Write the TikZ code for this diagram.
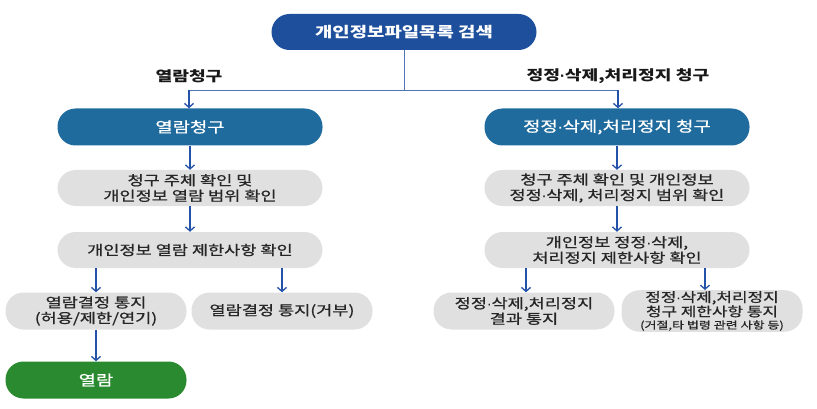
\documentclass[tikz,border=0pt]{standalone}
\usepackage{fontspec}
\setmainfont{Noto Sans CJK KR}[FakeStretch=1.3]
\newfontfamily\medfont{Noto Sans CJK KR}[FakeStretch=1.3, FakeBold=0.8]
\newfontfamily\dotfont{Liberation Sans}[FakeBold=1]
\newcommand\mdotx{{\dotfont ·}}
\usetikzlibrary{arrows.meta}
\definecolor{topblue}{HTML}{1E4F9C}
\definecolor{midblue}{HTML}{1F6B9E}
\definecolor{boxgray}{HTML}{E0E0E0}
\definecolor{okgreen}{HTML}{2A8A2F}
\definecolor{arrowblue}{HTML}{2452A8}
\tikzset{
  pill/.style={rounded corners=18pt, minimum height=37pt, align=center, inner sep=1pt},
  darkpill/.style={pill, fill=topblue, text=white, font=\bfseries\fontsize{14.5pt}{15pt}\selectfont},
  bluepill/.style={pill, fill=midblue, text=white, font=\medfont\fontsize{14.5pt}{15pt}\selectfont},
  graypill/.style={pill, fill=boxgray, text=black!85, font=\medfont\fontsize{13.5pt}{15.5pt}\selectfont},
  greenpill/.style={pill, fill=okgreen, text=white, font=\medfont\fontsize{14.5pt}{15pt}\selectfont},
  flow/.style={draw=arrowblue, line width=1.1pt, -{Straight Barb[length=4pt,width=9pt,line width=1.3pt]}},
  link/.style={draw=arrowblue!80, line width=0.8pt},
  lbl/.style={font=\bfseries\fontsize{14pt}{15pt}\selectfont, text=black!90}
}
\begin{document}
\begin{tikzpicture}[x=1pt,y=-1pt]
\useasboundingbox (0,0) rectangle (817,409);
\node[darkpill, minimum width=265pt, minimum height=36pt] (top) at (404,32) {개인정보파일목록 검색};
\coordinate (j) at (404,90);
\coordinate (jl) at (189,90);
\coordinate (jr) at (618,90);
\node[lbl] (ll) at (189,76) {열람청구};
\node[lbl] (rl) at (618,76) {정정\mdotx 삭제,처리정지 청구};

\node[bluepill, minimum width=265pt] (a1) at (190,127) {열람청구};
\node[graypill, minimum width=265pt, minimum height=36pt] (a2) at (190,188) {청구 주체 확인 및\\개인정보 열람 범위 확인};
\node[graypill, minimum width=265pt, minimum height=36pt] (a3) at (190,250) {개인정보 열람 제한사항 확인};
\node[graypill, minimum width=181pt] (a4) at (96,311) {열람결정 통지\\(허용/제한/연기)};
\node[graypill, minimum width=181pt] (a5) at (282,311) {열람결정 통지(거부)};
\node[greenpill, minimum width=181pt] (a6) at (96,380) {열람};

\node[bluepill, minimum width=265pt] (b1) at (617,127) {정정\mdotx 삭제,처리정지 청구};
\node[graypill, minimum width=265pt, minimum height=36pt] (b2) at (617,188) {청구 주체 확인 및 개인정보\\정정\mdotx 삭제, 처리정지 범위 확인};
\node[graypill, minimum width=265pt, minimum height=36pt] (b3) at (617,250) {개인정보 정정\mdotx 삭제,\\처리정지 제한사항 확인};
\node[graypill, minimum width=181pt] (b4) at (524,311) {정정\mdotx 삭제,처리정지\\결과 통지};
\node[graypill, minimum width=181pt, font=\medfont\fontsize{13pt}{12.5pt}\selectfont] (b5) at (712,311) {정정\mdotx 삭제,처리정지\\청구 제한사항 통지\\{\fontsize{10pt}{11pt}\selectfont (거절,타 법령 관련 사항 등)}};

\draw[link] (top.south) -- (j);
\draw[link] (jl) -- (jr);
\draw[flow] (jl) -- (jl |- a1.north);
\draw[flow] (jr) -- (jr |- b1.north);

\draw[flow] (a1.south) -- (a2.north);
\draw[flow] (a2.south) -- (a3.north);
\draw[flow] (a3.south -| a4) -- (a4.north);
\draw[flow] (a3.south -| a5) -- (a5.north);
\draw[flow] (a4.south) -- (a6.north);

\draw[flow] (b1.south) -- (b2.north);
\draw[flow] (b2.south) -- (b3.north);
\draw[flow] (b3.south -| 526,0) -- (b4.north -| 526,0);
\draw[flow] (b3.south -| 705,0) -- (b5.north -| 705,0);
\end{tikzpicture}
\end{document}
